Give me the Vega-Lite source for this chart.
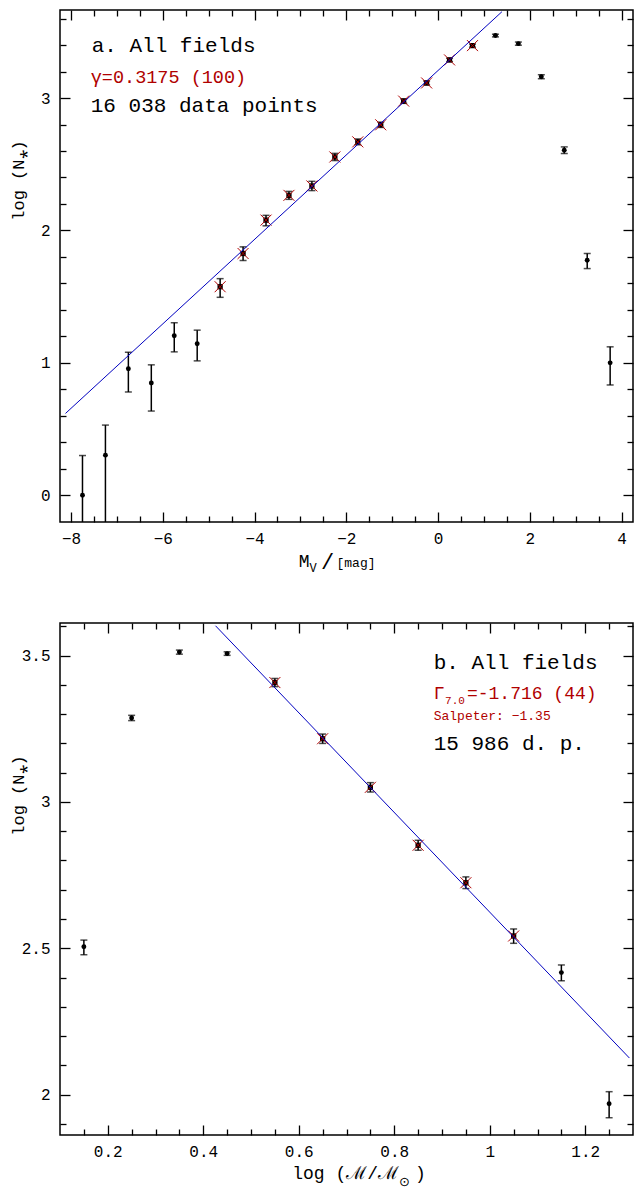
{
  "$schema": "https://vega.github.io/schema/vega-lite/v6.json",
  "padding": {"left": 8, "top": 8, "right": 0, "bottom": 0},
  "bounds": "flush",
  "spacing": 101,
  "config": {
    "view": {"stroke": "black", "strokeWidth": 1.5},
    "font": "Liberation Mono",
    "axis": {
      "grid": false, "domain": false, "tickColor": "black", "tickWidth": 1.3,
      "labelFont": "Liberation Mono", "labelFontSize": 16, "labelColor": "black",
      "labelFlush": false, "labelOverlap": false,
      "titleFont": "Liberation Mono", "titleFontSize": 17, "titleColor": "black", "titleFontWeight": "normal"
    }
  },
  "datasets": {
    "a": [
      {"x": -7.75, "y": 0.0, "lo": -0.5, "hi": 0.30, "fit": false},
      {"x": -7.25, "y": 0.303, "lo": -0.5, "hi": 0.53, "fit": false},
      {"x": -6.75, "y": 0.955, "lo": 0.78, "hi": 1.08, "fit": false},
      {"x": -6.25, "y": 0.848, "lo": 0.636, "hi": 0.985, "fit": false},
      {"x": -5.75, "y": 1.205, "lo": 1.083, "hi": 1.303, "fit": false},
      {"x": -5.25, "y": 1.144, "lo": 1.015, "hi": 1.247, "fit": false},
      {"x": -4.75, "y": 1.575, "lo": 1.495, "hi": 1.636, "fit": true},
      {"x": -4.25, "y": 1.826, "lo": 1.773, "hi": 1.876, "fit": true},
      {"x": -3.75, "y": 2.078, "lo": 2.035, "hi": 2.114, "fit": true},
      {"x": -3.25, "y": 2.265, "lo": 2.235, "hi": 2.295, "fit": true},
      {"x": -2.75, "y": 2.336, "lo": 2.301, "hi": 2.371, "fit": true},
      {"x": -2.25, "y": 2.555, "lo": 2.528, "hi": 2.582, "fit": true},
      {"x": -1.75, "y": 2.669, "lo": 2.647, "hi": 2.691, "fit": true},
      {"x": -1.25, "y": 2.798, "lo": 2.778, "hi": 2.818, "fit": true},
      {"x": -0.75, "y": 2.977, "lo": 2.96, "hi": 2.994, "fit": true},
      {"x": -0.25, "y": 3.114, "lo": 3.099, "hi": 3.129, "fit": true},
      {"x": 0.25, "y": 3.288, "lo": 3.275, "hi": 3.301, "fit": true},
      {"x": 0.75, "y": 3.396, "lo": 3.384, "hi": 3.408, "fit": true},
      {"x": 1.25, "y": 3.472, "lo": 3.462, "hi": 3.482, "fit": false},
      {"x": 1.75, "y": 3.411, "lo": 3.399, "hi": 3.423, "fit": false},
      {"x": 2.25, "y": 3.161, "lo": 3.146, "hi": 3.176, "fit": false},
      {"x": 2.75, "y": 2.606, "lo": 2.581, "hi": 2.631, "fit": false},
      {"x": 3.25, "y": 1.775, "lo": 1.712, "hi": 1.826, "fit": false},
      {"x": 3.75, "y": 1.0, "lo": 0.833, "hi": 1.121, "fit": false}
    ],
    "b": [
      {"x": 0.15, "y": 2.5055, "lo": 2.478, "hi": 2.528, "fit": false},
      {"x": 0.25, "y": 3.287, "lo": 3.278, "hi": 3.296, "fit": false},
      {"x": 0.35, "y": 3.512, "lo": 3.505, "hi": 3.519, "fit": false},
      {"x": 0.45, "y": 3.507, "lo": 3.501, "hi": 3.513, "fit": false},
      {"x": 0.55, "y": 3.408, "lo": 3.394, "hi": 3.422, "fit": true},
      {"x": 0.65, "y": 3.216, "lo": 3.2, "hi": 3.232, "fit": true},
      {"x": 0.75, "y": 3.05, "lo": 3.034, "hi": 3.066, "fit": true},
      {"x": 0.85, "y": 2.852, "lo": 2.835, "hi": 2.869, "fit": true},
      {"x": 0.95, "y": 2.724, "lo": 2.704, "hi": 2.744, "fit": true},
      {"x": 1.05, "y": 2.542, "lo": 2.517, "hi": 2.566, "fit": true},
      {"x": 1.15, "y": 2.417, "lo": 2.389, "hi": 2.443, "fit": false},
      {"x": 1.25, "y": 1.969, "lo": 1.921, "hi": 2.01, "fit": false}
    ]
  },
  "vconcat": [
    {
      "width": 573, "height": 512,
      "resolve": {"axis": {"x": "independent", "y": "independent"}},
      "layer": [
        {
          "data": {"name": "a"},
          "mark": {"type": "rule", "clip": true, "strokeWidth": 1.5, "color": "black"},
          "encoding": {
            "x": {"field": "x", "type": "quantitative", "scale": {"domain": [-8.24, 4.248], "nice": false, "zero": false},
                  "axis": {"orient": "bottom", "values": [-8, -6, -4, -2, 0, 2, 4], "tickSize": -10, "labelPadding": 26.5, "labelBaseline": "middle", "title": null}},
            "y": {"field": "lo", "type": "quantitative", "scale": {"domain": [-0.202, 3.665], "nice": false, "zero": false},
                  "axis": {"orient": "left", "values": [0, 1, 2, 3], "tickSize": -10, "labelPadding": 20, "title": "log (N⁎)", "titleX": -50, "titleY": 170, "titleBaseline": "top", "titleAlign": "center", "titleAngle": 270}},
            "y2": {"field": "hi"}
          }
        },
        {
          "data": {"name": "a"},
          "mark": {"type": "tick", "clip": true, "orient": "horizontal", "size": 7, "thickness": 1.5, "color": "black"},
          "encoding": {
            "x": {"field": "x", "type": "quantitative", "scale": {"domain": [-8.24, 4.248], "nice": false, "zero": false},
                  "axis": {"orient": "bottom", "values": [-7.5, -7, -6.5, -5.5, -5, -4.5, -3.5, -3, -2.5, -1.5, -1, -0.5, 0.5, 1, 1.5, 2.5, 3, 3.5], "tickSize": -6, "labels": false, "title": null}},
            "y": {"field": "hi", "type": "quantitative", "scale": {"domain": [-0.202, 3.665], "nice": false, "zero": false},
                  "axis": {"orient": "left", "values": [0.2, 0.4, 0.6, 0.8, 1.2, 1.4, 1.6, 1.8, 2.2, 2.4, 2.6, 2.8, 3.2, 3.4, 3.6], "tickSize": -6, "labels": false, "title": null}}
          }
        },
        {
          "data": {"name": "a"},
          "mark": {"type": "tick", "clip": true, "orient": "horizontal", "size": 7, "thickness": 1.5, "color": "black"},
          "encoding": {
            "x": {"field": "x", "type": "quantitative", "scale": {"domain": [-8.24, 4.248], "nice": false, "zero": false},
                  "axis": {"orient": "top", "values": [-8, -6, -4, -2, 0, 2, 4], "tickSize": -10, "labels": false, "title": null}},
            "y": {"field": "lo", "type": "quantitative", "scale": {"domain": [-0.202, 3.665], "nice": false, "zero": false},
                  "axis": {"orient": "right", "values": [0, 1, 2, 3], "tickSize": -10, "labels": false, "title": null}}
          }
        },
        {
          "data": {"name": "a"},
          "transform": [{"filter": "!datum.fit"}],
          "mark": {"type": "point", "shape": "circle", "filled": true, "size": 24, "color": "black", "opacity": 1},
          "encoding": {
            "x": {"field": "x", "type": "quantitative", "scale": {"domain": [-8.24, 4.248], "nice": false, "zero": false},
                  "axis": {"orient": "top", "values": [-7.5, -7, -6.5, -5.5, -5, -4.5, -3.5, -3, -2.5, -1.5, -1, -0.5, 0.5, 1, 1.5, 2.5, 3, 3.5], "tickSize": -6, "labels": false, "title": null}},
            "y": {"field": "y", "type": "quantitative", "scale": {"domain": [-0.202, 3.665], "nice": false, "zero": false},
                  "axis": {"orient": "right", "values": [0.2, 0.4, 0.6, 0.8, 1.2, 1.4, 1.6, 1.8, 2.2, 2.4, 2.6, 2.8, 3.2, 3.4, 3.6], "tickSize": -6, "labels": false, "title": null}}
          }
        },
        {
          "data": {"name": "a"},
          "transform": [{"filter": "datum.fit"}],
          "mark": {"type": "point", "shape": "square", "filled": true, "size": 28, "color": "black", "opacity": 1},
          "encoding": {
            "x": {"field": "x", "type": "quantitative", "scale": {"domain": [-8.24, 4.248], "nice": false, "zero": false}, "axis": null},
            "y": {"field": "y", "type": "quantitative", "scale": {"domain": [-0.202, 3.665], "nice": false, "zero": false}, "axis": null}
          }
        },
        {
          "data": {"name": "a"},
          "transform": [{"filter": "datum.fit"}],
          "mark": {"type": "point", "shape": "M-1,-1L1,1M-1,1L1,-1", "filled": false, "size": 121, "color": "#b00000", "strokeWidth": 1, "opacity": 1},
          "encoding": {
            "x": {"field": "x", "type": "quantitative", "scale": {"domain": [-8.24, 4.248], "nice": false, "zero": false}, "axis": null},
            "y": {"field": "y", "type": "quantitative", "scale": {"domain": [-0.202, 3.665], "nice": false, "zero": false}, "axis": null}
          }
        },
        {
          "data": {"values": [{"x": -8.12, "y": 0.618}, {"x": 1.391, "y": 3.652}]},
          "mark": {"type": "line", "color": "#0000c0", "strokeWidth": 1, "clip": true},
          "encoding": {
            "x": {"field": "x", "type": "quantitative", "scale": {"domain": [-8.24, 4.248], "nice": false, "zero": false}, "axis": null},
            "y": {"field": "y", "type": "quantitative", "scale": {"domain": [-0.202, 3.665], "nice": false, "zero": false}, "axis": null}
          }
        },
        {
          "data": {"values": [{"x": -7.55, "y": 3.35, "t": "a. All fields"}, {"x": -7.57, "y": 2.891, "t": "16 038 data points"}]},
          "mark": {"type": "text", "align": "left", "baseline": "alphabetic", "fontSize": 21, "color": "black", "font": "Liberation Mono"},
          "encoding": {
            "x": {"field": "x", "type": "quantitative", "scale": {"domain": [-8.24, 4.248], "nice": false, "zero": false}, "axis": null},
            "y": {"field": "y", "type": "quantitative", "scale": {"domain": [-0.202, 3.665], "nice": false, "zero": false}, "axis": null},
            "text": {"field": "t"}
          }
        },
        {
          "data": {"values": [{"x": -7.57, "y": 3.116, "t": "γ=0.3175 (100)"}]},
          "mark": {"type": "text", "align": "left", "baseline": "alphabetic", "fontSize": 18.5, "color": "#b00000", "font": "Liberation Mono"},
          "encoding": {
            "x": {"field": "x", "type": "quantitative", "scale": {"domain": [-8.24, 4.248], "nice": false, "zero": false}, "axis": null},
            "y": {"field": "y", "type": "quantitative", "scale": {"domain": [-0.202, 3.665], "nice": false, "zero": false}, "axis": null},
            "text": {"field": "t"}
          }
        },
        {
          "data": {"values": [{"x": -2.802, "y": -0.542, "t": "M"}]},
          "mark": {"type": "text", "align": "right", "baseline": "alphabetic", "fontSize": 18, "color": "black", "font": "Liberation Mono"},
          "encoding": {
            "x": {"field": "x", "type": "quantitative", "scale": {"domain": [-8.24, 4.248], "nice": false, "zero": false}, "axis": null},
            "y": {"field": "y", "type": "quantitative", "scale": {"domain": [-0.202, 3.665], "nice": false, "zero": false}, "axis": null},
            "text": {"field": "t"}
          }
        },
        {
          "data": {"values": [{"x": -2.802, "y": -0.58, "t": "V"}]},
          "mark": {"type": "text", "align": "left", "baseline": "alphabetic", "fontSize": 12, "color": "black", "font": "Liberation Mono"},
          "encoding": {
            "x": {"field": "x", "type": "quantitative", "scale": {"domain": [-8.24, 4.248], "nice": false, "zero": false}, "axis": null},
            "y": {"field": "y", "type": "quantitative", "scale": {"domain": [-0.202, 3.665], "nice": false, "zero": false}, "axis": null},
            "text": {"field": "t"}
          }
        },
        {
          "data": {"values": [{"x": -2.55, "y": -0.56, "t": "/"}]},
          "mark": {"type": "text", "align": "left", "baseline": "alphabetic", "fontSize": 22, "color": "black", "font": "Liberation Mono"},
          "encoding": {
            "x": {"field": "x", "type": "quantitative", "scale": {"domain": [-8.24, 4.248], "nice": false, "zero": false}, "axis": null},
            "y": {"field": "y", "type": "quantitative", "scale": {"domain": [-0.202, 3.665], "nice": false, "zero": false}, "axis": null},
            "text": {"field": "t"}
          }
        },
        {
          "data": {"values": [{"x": -2.214, "y": -0.542, "t": "[mag]"}]},
          "mark": {"type": "text", "align": "left", "baseline": "alphabetic", "fontSize": 13, "color": "black", "font": "Liberation Mono"},
          "encoding": {
            "x": {"field": "x", "type": "quantitative", "scale": {"domain": [-8.24, 4.248], "nice": false, "zero": false}, "axis": null},
            "y": {"field": "y", "type": "quantitative", "scale": {"domain": [-0.202, 3.665], "nice": false, "zero": false}, "axis": null},
            "text": {"field": "t"}
          }
        }
      ]
    },
    {
      "width": 573, "height": 512,
      "resolve": {"axis": {"x": "independent", "y": "independent"}},
      "layer": [
        {
          "data": {"name": "b"},
          "mark": {"type": "rule", "clip": true, "strokeWidth": 1.5, "color": "black"},
          "encoding": {
            "x": {"field": "x", "type": "quantitative", "scale": {"domain": [0.1, 1.3], "nice": false, "zero": false},
                  "axis": {"orient": "bottom", "values": [0.2, 0.4, 0.6, 0.8, 1, 1.2], "format": "~g", "tickSize": -10, "labelPadding": 26, "labelBaseline": "middle", "title": null}},
            "y": {"field": "lo", "type": "quantitative", "scale": {"domain": [1.862, 3.6115], "nice": false, "zero": false},
                  "axis": {"orient": "left", "values": [2, 2.5, 3, 3.5], "format": "~g", "tickSize": -10, "labelPadding": 20, "title": "log (N⁎)", "titleX": -50, "titleY": 172, "titleBaseline": "top", "titleAlign": "center", "titleAngle": 270}},
            "y2": {"field": "hi"}
          }
        },
        {
          "data": {"name": "b"},
          "mark": {"type": "tick", "clip": true, "orient": "horizontal", "size": 7, "thickness": 1.5, "color": "black"},
          "encoding": {
            "x": {"field": "x", "type": "quantitative", "scale": {"domain": [0.1, 1.3], "nice": false, "zero": false},
                  "axis": {"orient": "bottom", "values": [0.15, 0.25, 0.3, 0.35, 0.45, 0.5, 0.55, 0.65, 0.7, 0.75, 0.85, 0.9, 0.95, 1.05, 1.1, 1.15, 1.25], "tickSize": -6, "labels": false, "title": null}},
            "y": {"field": "hi", "type": "quantitative", "scale": {"domain": [1.862, 3.6115], "nice": false, "zero": false},
                  "axis": {"orient": "left", "values": [1.9, 2.1, 2.2, 2.3, 2.4, 2.6, 2.7, 2.8, 2.9, 3.1, 3.2, 3.3, 3.4, 3.6], "tickSize": -6, "labels": false, "title": null}}
          }
        },
        {
          "data": {"name": "b"},
          "mark": {"type": "tick", "clip": true, "orient": "horizontal", "size": 7, "thickness": 1.5, "color": "black"},
          "encoding": {
            "x": {"field": "x", "type": "quantitative", "scale": {"domain": [0.1, 1.3], "nice": false, "zero": false},
                  "axis": {"orient": "top", "values": [0.2, 0.4, 0.6, 0.8, 1, 1.2], "tickSize": -10, "labels": false, "title": null}},
            "y": {"field": "lo", "type": "quantitative", "scale": {"domain": [1.862, 3.6115], "nice": false, "zero": false},
                  "axis": {"orient": "right", "values": [2, 2.5, 3, 3.5], "tickSize": -10, "labels": false, "title": null}}
          }
        },
        {
          "data": {"name": "b"},
          "transform": [{"filter": "!datum.fit"}],
          "mark": {"type": "point", "shape": "circle", "filled": true, "size": 24, "color": "black", "opacity": 1},
          "encoding": {
            "x": {"field": "x", "type": "quantitative", "scale": {"domain": [0.1, 1.3], "nice": false, "zero": false},
                  "axis": {"orient": "top", "values": [0.15, 0.25, 0.3, 0.35, 0.45, 0.5, 0.55, 0.65, 0.7, 0.75, 0.85, 0.9, 0.95, 1.05, 1.1, 1.15, 1.25], "tickSize": -6, "labels": false, "title": null}},
            "y": {"field": "y", "type": "quantitative", "scale": {"domain": [1.862, 3.6115], "nice": false, "zero": false},
                  "axis": {"orient": "right", "values": [1.9, 2.1, 2.2, 2.3, 2.4, 2.6, 2.7, 2.8, 2.9, 3.1, 3.2, 3.3, 3.4, 3.6], "tickSize": -6, "labels": false, "title": null}}
          }
        },
        {
          "data": {"name": "b"},
          "transform": [{"filter": "datum.fit"}],
          "mark": {"type": "point", "shape": "square", "filled": true, "size": 28, "color": "black", "opacity": 1},
          "encoding": {
            "x": {"field": "x", "type": "quantitative", "scale": {"domain": [0.1, 1.3], "nice": false, "zero": false}, "axis": null},
            "y": {"field": "y", "type": "quantitative", "scale": {"domain": [1.862, 3.6115], "nice": false, "zero": false}, "axis": null}
          }
        },
        {
          "data": {"name": "b"},
          "transform": [{"filter": "datum.fit"}],
          "mark": {"type": "point", "shape": "M-1,-1L1,1M-1,1L1,-1", "filled": false, "size": 121, "color": "#b00000", "strokeWidth": 1, "opacity": 1},
          "encoding": {
            "x": {"field": "x", "type": "quantitative", "scale": {"domain": [0.1, 1.3], "nice": false, "zero": false}, "axis": null},
            "y": {"field": "y", "type": "quantitative", "scale": {"domain": [1.862, 3.6115], "nice": false, "zero": false}, "axis": null}
          }
        },
        {
          "data": {"values": [{"x": 0.4257, "y": 3.602}, {"x": 1.2925, "y": 2.125}]},
          "mark": {"type": "line", "color": "#0000c0", "strokeWidth": 1, "clip": true},
          "encoding": {
            "x": {"field": "x", "type": "quantitative", "scale": {"domain": [0.1, 1.3], "nice": false, "zero": false}, "axis": null},
            "y": {"field": "y", "type": "quantitative", "scale": {"domain": [1.862, 3.6115], "nice": false, "zero": false}, "axis": null}
          }
        },
        {
          "data": {"values": [{"x": 0.8826, "y": 3.454, "t": "b. All fields"}, {"x": 0.8826, "y": 3.177, "t": "15 986 d. p."}]},
          "mark": {"type": "text", "align": "left", "baseline": "alphabetic", "fontSize": 21, "color": "black", "font": "Liberation Mono"},
          "encoding": {
            "x": {"field": "x", "type": "quantitative", "scale": {"domain": [0.1, 1.3], "nice": false, "zero": false}, "axis": null},
            "y": {"field": "y", "type": "quantitative", "scale": {"domain": [1.862, 3.6115], "nice": false, "zero": false}, "axis": null},
            "text": {"field": "t"}
          }
        },
        {
          "data": {"values": [{"x": 0.8826, "y": 3.352, "t": "Γ"}, {"x": 0.9522, "y": 3.352, "t": "=-1.716 (44)"}]},
          "mark": {"type": "text", "align": "left", "baseline": "alphabetic", "fontSize": 18, "color": "#b00000", "font": "Liberation Mono"},
          "encoding": {
            "x": {"field": "x", "type": "quantitative", "scale": {"domain": [0.1, 1.3], "nice": false, "zero": false}, "axis": null},
            "y": {"field": "y", "type": "quantitative", "scale": {"domain": [1.862, 3.6115], "nice": false, "zero": false}, "axis": null},
            "text": {"field": "t"}
          }
        },
        {
          "data": {"values": [{"x": 0.9065, "y": 3.3345, "t": "7.0"}]},
          "mark": {"type": "text", "align": "left", "baseline": "alphabetic", "fontSize": 11, "color": "#b00000", "font": "Liberation Mono"},
          "encoding": {
            "x": {"field": "x", "type": "quantitative", "scale": {"domain": [0.1, 1.3], "nice": false, "zero": false}, "axis": null},
            "y": {"field": "y", "type": "quantitative", "scale": {"domain": [1.862, 3.6115], "nice": false, "zero": false}, "axis": null},
            "text": {"field": "t"}
          }
        },
        {
          "data": {"values": [{"x": 0.8826, "y": 3.28, "t": "Salpeter: −1.35"}]},
          "mark": {"type": "text", "align": "left", "baseline": "alphabetic", "fontSize": 13, "color": "#b00000", "font": "Liberation Mono"},
          "encoding": {
            "x": {"field": "x", "type": "quantitative", "scale": {"domain": [0.1, 1.3], "nice": false, "zero": false}, "axis": null},
            "y": {"field": "y", "type": "quantitative", "scale": {"domain": [1.862, 3.6115], "nice": false, "zero": false}, "axis": null},
            "text": {"field": "t"}
          }
        },
        {
          "data": {"values": [{"x": 0.8101, "y": 1.7104, "t": "log (ℳ/ℳ"}]},
          "mark": {"type": "text", "align": "right", "baseline": "alphabetic", "fontSize": 18, "color": "black", "font": "Liberation Mono"},
          "encoding": {
            "x": {"field": "x", "type": "quantitative", "scale": {"domain": [0.1, 1.3], "nice": false, "zero": false}, "axis": null},
            "y": {"field": "y", "type": "quantitative", "scale": {"domain": [1.862, 3.6115], "nice": false, "zero": false}, "axis": null},
            "text": {"field": "t"}
          }
        },
        {
          "data": {"values": [{"x": 0.8101, "y": 1.689, "t": "⊙"}]},
          "mark": {"type": "text", "align": "left", "baseline": "alphabetic", "fontSize": 13, "color": "black", "font": "DejaVu Sans"},
          "encoding": {
            "x": {"field": "x", "type": "quantitative", "scale": {"domain": [0.1, 1.3], "nice": false, "zero": false}, "axis": null},
            "y": {"field": "y", "type": "quantitative", "scale": {"domain": [1.862, 3.6115], "nice": false, "zero": false}, "axis": null},
            "text": {"field": "t"}
          }
        },
        {
          "data": {"values": [{"x": 0.8435, "y": 1.7104, "t": ")"}]},
          "mark": {"type": "text", "align": "left", "baseline": "alphabetic", "fontSize": 18, "color": "black", "font": "Liberation Mono"},
          "encoding": {
            "x": {"field": "x", "type": "quantitative", "scale": {"domain": [0.1, 1.3], "nice": false, "zero": false}, "axis": null},
            "y": {"field": "y", "type": "quantitative", "scale": {"domain": [1.862, 3.6115], "nice": false, "zero": false}, "axis": null},
            "text": {"field": "t"}
          }
        }
      ]
    }
  ]
}
